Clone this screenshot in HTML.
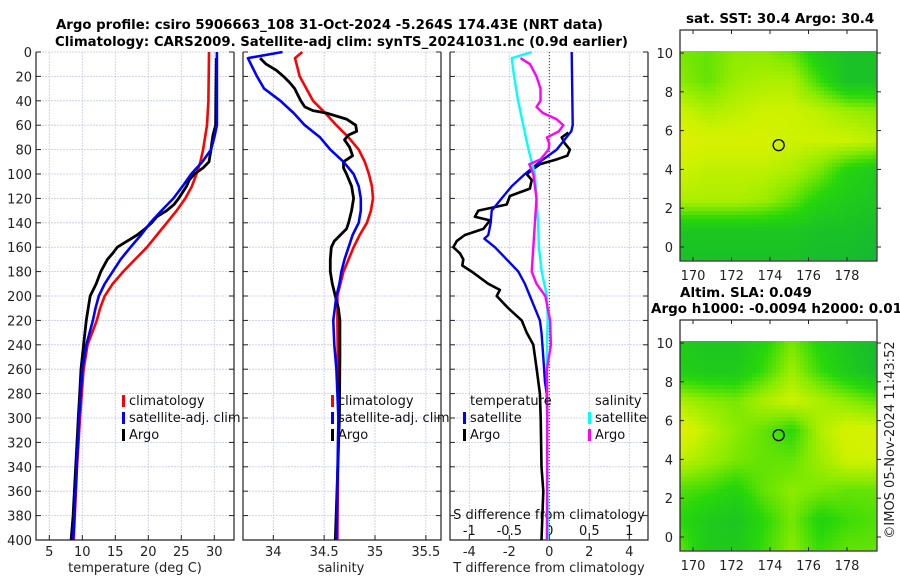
<!DOCTYPE html>
<html><head><meta charset="utf-8"><style>
html,body{margin:0;padding:0;background:#fff;}
svg{display:block;font-family:"DejaVu Sans","Liberation Sans",sans-serif;}
</style></head><body>
<svg id="fig" width="900" height="580" viewBox="0 0 900 580" xmlns="http://www.w3.org/2000/svg">
<g font-weight="bold" font-size="13.5" fill="#000">
<text x="56" y="29" textLength="547" lengthAdjust="spacingAndGlyphs">Argo profile: csiro 5906663_108 31-Oct-2024 -5.264S 174.43E (NRT data)</text>
<text x="55" y="46" textLength="573" lengthAdjust="spacingAndGlyphs">Climatology: CARS2009. Satellite-adj clim: synTS_20241031.nc (0.9d earlier)</text>
</g>
<g id="plots"></g>
<text transform="translate(894,440) rotate(-90)" text-anchor="middle" font-size="13" fill="#222">©IMOS 05-Nov-2024 11:43:52</text>
</svg>
<script>
// ---------- data ----------
const tDepthRed = [0,40,60,80,90,100,110,120,130,140,150,160,170,180,190,200,210,220,240,260,300,340,400];
const tRed      = [29.2,29.1,28.9,28.3,27.9,27.3,26.6,25.6,24.3,22.8,21.3,19.8,18.0,16.2,14.6,13.4,12.7,12.2,10.8,10.2,9.65,9.2,8.7];
const tDepthBlue= [0,60,70,80,90,100,110,120,130,140,150,160,170,180,190,200,210,220,240,260,300,340,400];
const tBlue     = [30.4,30.4,30.0,29.5,28.2,26.5,25.2,23.8,22.0,20.3,18.9,17.3,15.8,14.6,13.4,12.5,12.0,11.6,10.6,10.0,9.5,9.15,8.6];
const tDepthArgo= [5,60,68,75,80,90,95,100,105,110,115,120,125,130,135,140,145,150,155,160,165,170,180,190,200,210,220,240,260,280,300,340,380,400];
const tArgo     = [30.3,30.2,29.8,29.6,29.5,29.2,28.3,27.0,26.2,25.8,25.2,24.6,23.9,22.8,21.3,20.5,19.5,18.3,16.8,15.3,14.6,13.8,12.8,12.1,11.2,10.9,10.6,10.2,9.8,9.6,9.4,9.0,8.6,8.3];

const sDepthRed = [0,5,20,40,50,60,70,80,90,100,110,120,130,140,150,160,170,180,190,200,220,300,400];
const sRed      = [34.285,34.213,34.26,34.39,34.51,34.62,34.74,34.84,34.90,34.94,34.97,34.98,34.96,34.92,34.85,34.79,34.74,34.69,34.66,34.63,34.63,34.64,34.63];
const sDepthBlue= [0,5,10,20,30,40,50,60,70,80,90,100,110,120,130,140,150,160,170,180,190,200,220,240,260,300,400];
const sBlue     = [34.09,33.75,33.78,33.84,33.91,34.07,34.20,34.31,34.46,34.56,34.69,34.79,34.84,34.86,34.86,34.84,34.78,34.74,34.70,34.67,34.65,34.62,34.59,34.60,34.62,34.64,34.62];
const sDepthArgo= [5,10,15,20,25,30,35,40,45,48,50,55,60,65,68,72,78,85,90,95,100,110,120,130,140,145,150,155,160,170,180,190,200,210,220,250,300,350,400];
const sArgo     = [33.87,33.93,34.03,34.10,34.16,34.21,34.24,34.27,34.31,34.39,34.52,34.72,34.81,34.82,34.74,34.70,34.75,34.78,34.69,34.69,34.72,34.77,34.79,34.77,34.74,34.72,34.66,34.60,34.57,34.56,34.56,34.58,34.61,34.64,34.655,34.655,34.65,34.63,34.61];

const dDepthTSat = [0,60,65,80,90,100,110,120,130,140,150,153,160,170,180,190,200,220,230,250,270,280,300,400];
const dTSat      = [1.12,1.17,1.1,0.37,-0.47,-1.22,-1.88,-2.38,-2.88,-2.93,-3.05,-3.25,-2.72,-2.13,-1.55,-1.22,-0.97,-0.47,-0.39,-0.3,-0.22,-0.13,-0.1,-0.1];
const dDepthTArgo= [66,70,75,80,85,88,92,100,105,112,118,125,130,135,138,145,150,155,160,165,170,175,180,190,195,200,210,220,230,240,260,280,300,340,360,400];
const dTArgo     = [0.95,0.62,0.78,1.03,0.9,0.37,-0.47,-1.13,-0.88,-0.97,-1.97,-2.13,-3.55,-3.72,-2.97,-3.3,-4.22,-4.63,-4.8,-4.47,-4.3,-4.35,-3.88,-3.05,-2.47,-2.63,-2.05,-1.38,-1.13,-0.8,-0.63,-0.47,-0.43,-0.39,-0.3,-0.39];
const dDepthSSat = [0,5,20,40,60,80,100,120,140,160,180,200,220,240,300,400];
const dSSat      = [-0.22,-0.47,-0.44,-0.39,-0.325,-0.26,-0.18,-0.16,-0.14,-0.13,-0.095,-0.03,-0.02,-0.03,-0.025,-0.02];
const dDepthSArgo= [5,10,20,30,40,45,50,55,60,65,70,75,80,88,92,100,120,140,160,170,180,190,200,220,240,260,300,400];
const dSArgo     = [-0.36,-0.24,-0.16,-0.11,-0.11,-0.16,-0.08,0.09,0.175,0.12,-0.03,0.0,-0.01,-0.11,-0.25,-0.2,-0.16,-0.18,-0.2,-0.21,-0.22,-0.16,-0.05,0.01,0.02,-0.03,-0.025,-0.03];

const depthTicks = [0,20,40,60,80,100,120,140,160,180,200,220,240,260,280,300,320,340,360,380,400];
const tTicks = [5,10,15,20,25,30];
const sTicks = [34,34.5,35,35.5];
const sTickLabels = ["34","34.5","35","35.5"];
const dTTicks = [-4,-2,0,2,4];
const dSTicks = [-1,-0.5,0,0.5,1];
const dSTickLabels = ["-1","-0.5","0","0.5","1"];
const lonTicks = [170,172,174,176,178];
const latTicks = [0,2,4,6,8,10];

const sstGrid = [
 [0.55,0.5,0.6,0.6,0.5,0.2,0.1,0.1],
 [0.6,0.5,0.65,0.7,0.7,0.4,0.1,0.1],
 [0.8,0.7,0.75,0.8,0.8,0.75,0.65,0.6],
 [0.9,0.85,0.85,0.85,0.8,0.8,0.8,0.75],
 [0.8,0.75,0.75,0.75,0.7,0.55,0.3,0.2],
 [0.7,0.7,0.7,0.65,0.5,0.3,0.2,0.15],
 [0.15,0.15,0.15,0.15,0.15,0.1,0.1,0.05],
 [0.1,0.1,0.1,0.1,0.1,0.05,0.05,0.0]];
const slaGrid = [
 [0.2,0.15,0.15,0.3,0.55,0.3,0.15,0.05],
 [0.25,0.2,0.2,0.4,0.65,0.4,0.2,0.05],
 [0.7,0.6,0.55,0.7,0.8,0.7,0.6,0.5],
 [0.9,0.75,0.6,0.5,0.35,0.7,0.85,0.85],
 [0.75,0.65,0.55,0.5,0.5,0.65,0.8,0.8],
 [0.45,0.4,0.3,0.5,0.6,0.55,0.5,0.5],
 [0.35,0.2,0.15,0.35,0.55,0.3,0.4,0.45],
 [0.5,0.2,0.2,0.4,0.6,0.4,0.5,0.5]];
const argoLon = 174.45, argoLat = 5.25;

// ---------- drawing ----------
const NS="http://www.w3.org/2000/svg";
const root=document.getElementById('plots');
function mk(tag,attrs,parent){const e=document.createElementNS(NS,tag);for(const k in attrs)e.setAttribute(k,attrs[k]);(parent||root).appendChild(e);return e;}
function txt(s,attrs,parent){const e=mk('text',attrs,parent);e.textContent=s;return e;}

const Y0=52, YS=1.22;
const yD=d=>Y0+d*YS;

function panel(name,x0,x1,xTickVals,xFn,xLabels){
  const g=mk('g',{});
  
  
  depthTicks.forEach(d=>{mk('line',{x1:x0,x2:x1,y1:yD(d),y2:yD(d),stroke:'#c4c8ec','stroke-width':0.8,'stroke-dasharray':'2,1'},g);
    mk('line',{x1:x0,x2:x0+5,y1:yD(d),y2:yD(d),stroke:'#222','stroke-width':1},g);
    mk('line',{x1:x1-5,x2:x1,y1:yD(d),y2:yD(d),stroke:'#222','stroke-width':1},g);});
  xTickVals.forEach((v,i)=>{const x=xFn(v);
    mk('line',{x1:x,x2:x,y1:Y0,y2:yD(400),stroke:'#c4c8ec','stroke-width':0.8,'stroke-dasharray':'2,1'},g);
    mk('line',{x1:x,x2:x,y1:yD(400)-5,y2:yD(400),stroke:'#222','stroke-width':1},g);
    if(xLabels){const t=txt(xLabels[i],{x:x,y:556,'text-anchor':'middle','font-size':13,fill:'#222'},g);
      }});
  mk('path',{d:`M${x0},${Y0}V${yD(400)}H${x1}V${Y0}`,fill:'none',stroke:'#222','stroke-width':1.2},g);
  return g;
}
function line(g,depths,vals,fn,color,w,name){
  const p=mk('polyline',{points:depths.map((d,i)=>fn(vals[i]).toFixed(1)+','+yD(d).toFixed(1)).join(' '),fill:'none',stroke:color,'stroke-width':w,'stroke-linejoin':'round'},g);
  
}
function legendEntry(g,x,y,color,label,name){
  const e=mk('g',{},g);
  
  if(color)mk('rect',{x:x-7,y:y-10,width:3,height:12,fill:color},e);
  txt(label,{x:x,y:y,'font-size':13,fill:'#111'},e);
}

// y tick labels
depthTicks.forEach(d=>{const t=txt(String(d),{x:32,y:yD(d)+5,'text-anchor':'end','font-size':13,fill:'#222'});
  });

// panel 1 temperature
const xT=v=>49.3+(v-5)*6.6;
const g1=panel('temperature-panel',36,234,tTicks,xT,tTicks.map(String));
line(g1,tDepthRed,tRed,xT,'#ff0000',2.6,'temp-climatology-line');
line(g1,tDepthArgo,tArgo,xT,'#000',2.8,'temp-argo-line');
line(g1,tDepthBlue,tBlue,xT,'#0000ff',2.6,'temp-satellite-line');
legendEntry(g1,129,405,'#ff0000','climatology','legend-climatology');
legendEntry(g1,129,422,'#0000ff','satellite-adj. clim','legend-satellite-adj');
legendEntry(g1,129,439,'#000','Argo','legend-argo');
txt('temperature (deg C)',{x:135,y:572,'text-anchor':'middle','font-size':13,fill:'#222',});

// panel 2 salinity
const xS=v=>273.3+(v-34)*101.7;
const g2=panel('salinity-panel',243,441,sTicks,xS,sTickLabels);
line(g2,sDepthRed,sRed,xS,'#ff0000',2.6,'sal-climatology-line');
line(g2,sDepthArgo,sArgo,xS,'#000',2.8,'sal-argo-line');
line(g2,sDepthBlue,sBlue,xS,'#0000ff',2.6,'sal-satellite-line');
legendEntry(g2,338,405,'#ff0000','climatology','legend-climatology-2');
legendEntry(g2,338,422,'#0000ff','satellite-adj. clim','legend-satellite-adj-2');
legendEntry(g2,338,439,'#000','Argo','legend-argo-2');
txt('salinity',{x:341,y:572,'text-anchor':'middle','font-size':13,fill:'#222',});

// panel 3 differences
const xDT=v=>549.3+v*20, xDS=v=>549.3+v*80;
const g3=panel('difference-panel',450,648,dTTicks,xDT,dTTicks.map(String));
mk('line',{x1:549.3,x2:549.3,y1:Y0,y2:yD(400),stroke:'#333','stroke-width':1,'stroke-dasharray':'1,2'},g3);
dSTicks.forEach((v,i)=>{const t=txt(dSTickLabels[i],{x:xDS(v),y:535,'text-anchor':'middle','font-size':13,fill:'#111'},g3);
  });
txt('S difference from climatology',{x:549,y:519,'text-anchor':'middle','font-size':13,fill:'#111',},g3);
line(g3,dDepthTArgo,dTArgo,xDT,'#000',2.6,'tdiff-argo-line');
line(g3,dDepthTSat,dTSat,xDT,'#0000ff',2.4,'tdiff-satellite-line');
line(g3,dDepthSSat,dSSat,xDS,'#00ffff',2.4,'sdiff-satellite-line');
line(g3,dDepthSArgo,dSArgo,xDS,'#ff00ff',2.4,'sdiff-argo-line');
legendEntry(g3,470,405,null,'temperature','legend-temperature-header');
legendEntry(g3,470,422,'#0000ff','satellite','legend-t-satellite');
legendEntry(g3,470,439,'#000','Argo','legend-t-argo');
legendEntry(g3,595,405,null,'salinity','legend-salinity-header');
legendEntry(g3,595,422,'#00ffff','satellite','legend-s-satellite');
legendEntry(g3,595,439,'#ff00ff','Argo','legend-s-argo');
txt('T difference from climatology',{x:549,y:572,'text-anchor':'middle','font-size':13,fill:'#222',});

// maps
function cmap(v){
  v=Math.max(0,Math.min(1,v));
  const stops=[[0,[20,185,50]],[0.35,[40,215,10]],[0.6,[140,235,0]],[0.8,[205,242,0]],[1,[240,235,10]]];
  for(let i=1;i<stops.length;i++){if(v<=stops[i][0]){const a=stops[i-1],b=stops[i],t=(v-a[0])/(b[0]-a[0]);
    return 'rgb('+a[1].map((c,k)=>Math.round(c+(b[1][k]-c)*t)).join(',')+')';}}
  return 'rgb(240,235,10)';
}
function map(name,grid,oy,title,titleX,titleY,title2){
  const g=mk('g',{});
  
  const fx0=680,fx1=877,fy0=30+oy,fy1=261+oy;
  const ix0=680,ix1=876,iy0=51+oy,iy1=260+oy;
  const lonX=l=>693+(l-170)*19.25, latY=a=>53+oy+(10-a)*19.4;
  const rows=grid.length, cols=grid[0].length, cs=4;
  for(let y=iy0;y<iy1;y+=cs){for(let x=ix0;x<ix1;x+=cs){
    const fr=(y+cs/2-iy0)/(iy1-iy0)*(rows-1), fc=(x+cs/2-ix0)/(ix1-ix0)*(cols-1);
    const r0=Math.min(rows-2,Math.floor(fr)), c0=Math.min(cols-2,Math.floor(fc)), tr=fr-r0, tc=fc-c0;
    const v=grid[r0][c0]*(1-tr)*(1-tc)+grid[r0][c0+1]*(1-tr)*tc+grid[r0+1][c0]*tr*(1-tc)+grid[r0+1][c0+1]*tr*tc;
    mk('rect',{x:x,y:y,width:Math.min(cs,ix1-x)+0.3,height:Math.min(cs,iy1-y)+0.3,fill:cmap(v)},g);}}
  mk('rect',{x:fx0,y:fy0,width:fx1-fx0,height:fy1-fy0,fill:'none',stroke:'#222','stroke-width':1.2},g);
  lonTicks.forEach(l=>{const x=lonX(l);
    mk('line',{x1:x,x2:x,y1:fy1,y2:fy1-4,stroke:'#222'},g);mk('line',{x1:x,x2:x,y1:fy0,y2:fy0+4,stroke:'#222'},g);
    const t=txt(String(l),{x:x,y:fy1+19,'text-anchor':'middle','font-size':13,fill:'#222'},g);
    });
  latTicks.forEach(a=>{const y=latY(a);
    mk('line',{x1:fx0,x2:fx0+4,y1:y,y2:y,stroke:'#222'},g);mk('line',{x1:fx1,x2:fx1+4,y1:y,y2:y,stroke:'#222'},g);
    const t=txt(String(a),{x:673,y:y+5,'text-anchor':'end','font-size':13,fill:'#222'},g);
    });
  const c=mk('circle',{cx:lonX(argoLon),cy:latY(argoLat),r:5.5,fill:'none',stroke:'#000','stroke-width':1.3},g);
  
  const t=txt(title,{x:titleX,y:titleY,'font-size':13.5,'font-weight':'bold',fill:'#000'},g);
  
  if(title2){const t2=txt(title2,{x:651,y:titleY+16,'font-size':13.5,'font-weight':'bold',fill:'#000'},g);
    }
}
map('sst-map',sstGrid,0,'sat. SST: 30.4 Argo: 30.4',686,23,null);
map('sla-map',slaGrid,290,'Altim. SLA: 0.049',680,297,'Argo h1000: -0.0094 h2000: 0.017');
</script>
</body></html>
